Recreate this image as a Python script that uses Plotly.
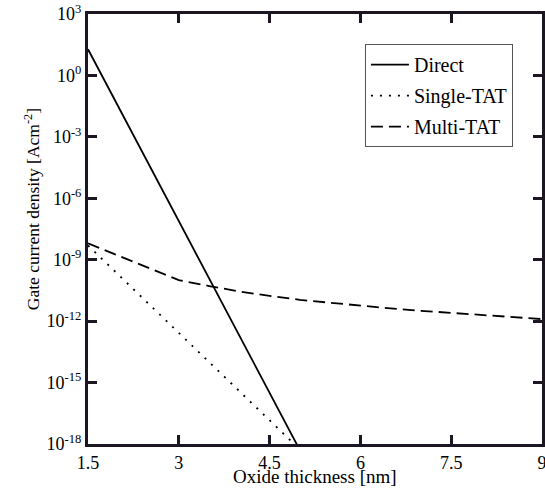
import plotly.graph_objects as go

# Oxide thickness [nm]
x_direct = [1.5, 2.5, 3.5, 4.5, 5.0]
y_direct = [19.0, 4.9e-5, 1.26e-10, 3.2e-16, 5.0e-19]

x_single = [1.5, 2.5, 3.5, 4.5, 5.0]
y_single = [5.0e-9, 7.1e-12, 1.0e-14, 1.4e-17, 5.4e-19]

x_multi = [1.5, 2.0, 2.5, 3.0, 3.5, 4.0, 4.5, 5.0, 5.5, 6.0, 6.5, 7.0, 7.5, 8.0, 8.5, 9.0]
y_multi = [6.3e-9, 1.6e-9, 4.0e-10, 1.0e-10, 5.2e-11, 2.8e-11, 1.7e-11, 1.1e-11,
           7.9e-12, 5.6e-12, 4.2e-12, 3.2e-12, 2.5e-12, 2.0e-12, 1.6e-12, 1.26e-12]

x_ticks = [1.5, 3, 4.5, 6, 7.5, 9]
x_tick_labels = ["1.5", "3", "4.5", "6", "7.5", "9"]
y_exponents = [3, 0, -3, -6, -9, -12, -15, -18]

FONT = "Liberation Serif, Times New Roman, serif"
FRAME = "rgb(28,22,34)"

fig = go.Figure()
fig.add_trace(go.Scatter(x=x_direct, y=y_direct, mode="lines", name="Direct",
                         legendgroup="a",
                         line=dict(color="black", width=1.8)))
fig.add_trace(go.Scatter(x=x_single, y=y_single, mode="lines", name="Single-TAT",
                         legendgroup="b",
                         line=dict(color="black", width=1.8, dash="2px,7px")))
fig.add_trace(go.Scatter(x=x_multi, y=y_multi, mode="lines", name="Multi-TAT",
                         legendgroup="c",
                         line=dict(color="black", width=1.8, dash="12px,6px")))

axis_common = dict(showline=True, linecolor=FRAME, linewidth=3, mirror="allticks",
                   ticks="inside", ticklen=9, tickwidth=2.5, tickcolor=FRAME,
                   showgrid=False, zeroline=False,
                   automargin=False, ticklabeloverflow="allow",
                   tickfont=dict(family=FONT, size=18, color="black"))

fig.update_xaxes(range=[1.5, 9], tickvals=x_ticks, ticktext=x_tick_labels, **axis_common)
fig.update_yaxes(type="log", range=[-18, 3],
                 tickvals=[10.0 ** e for e in y_exponents],
                 ticktext=[f"10<sup>{e}</sup>" for e in y_exponents],
                 **axis_common)

fig.add_annotation(text="Gate current density [Acm<sup>-2</sup>]",
                   xref="paper", yref="paper", x=-0.123, y=0.5465,
                   xanchor="center", yanchor="middle", textangle=-90, showarrow=False,
                   font=dict(family=FONT, size=17.5, color="black"))
fig.add_annotation(text="Oxide thickness [nm]",
                   xref="paper", yref="paper", x=0.5, y=-0.075,
                   xanchor="center", yanchor="middle", showarrow=False,
                   font=dict(family=FONT, size=19, color="black"))

fig.update_layout(
    width=545, height=491,
    margin=dict(l=88, r=3, t=14, b=47),
    paper_bgcolor="white", plot_bgcolor="white",
    font=dict(family=FONT, color="black"),
    showlegend=True,
    legend=dict(x=0.61, y=0.93, xanchor="left", yanchor="top",
                bordercolor="#555555", borderwidth=1, bgcolor="white",
                font=dict(family=FONT, size=20, color="black"),
                itemwidth=38, tracegroupgap=2, traceorder="grouped"),
)

fig.write_html("out.html", config={"displayModeBar": False},
               post_script="document.body.style.margin='0';")
